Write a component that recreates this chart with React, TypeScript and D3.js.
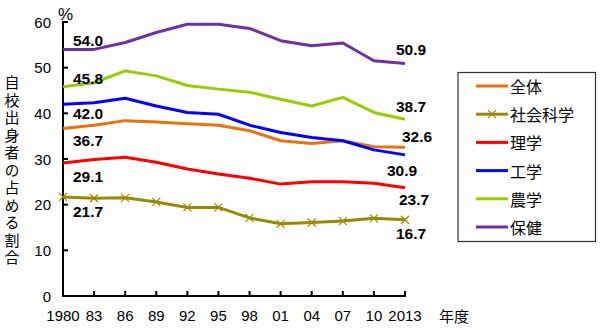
import React from "react";
import * as d3 from "d3";

const years = ["1980", "83", "86", "89", "92", "95", "98", "01", "04", "07", "10", "2013"];
const yTicks = [0, 10, 20, 30, 40, 50, 60];

const seriesNames = ["全体", "社会科学", "理学", "工学", "農学", "保健"];
const zentai = [36.7, 37.4, 38.4, 38.1, 37.7, 37.4, 36.2, 34.0, 33.4, 34.0, 32.7, 32.6];
const shakai = [21.7, 21.4, 21.5, 20.6, 19.4, 19.4, 17.1, 15.8, 16.1, 16.4, 17.0, 16.7];
const rigaku = [29.1, 29.9, 30.4, 29.3, 27.8, 26.7, 25.8, 24.5, 25.0, 25.0, 24.7, 23.7];
const kogaku = [42.0, 42.3, 43.3, 41.6, 40.2, 39.8, 37.4, 35.8, 34.7, 34.0, 32.0, 30.9];
const nogaku = [45.8, 46.7, 49.3, 48.2, 46.1, 45.3, 44.6, 43.1, 41.6, 43.5, 40.2, 38.7];
const hoken = [54.0, 54.0, 55.5, 57.7, 59.5, 59.5, 58.6, 55.9, 54.8, 55.4, 51.5, 50.9];

const colors = ["#E8720C", "#9A8800", "#FF0000", "#0000FF", "#99CC00", "#7030A0"];

const yTitle = "自校出身者の占める割合";

export default function App() {
  const data = [zentai, shakai, rigaku, kogaku, nogaku, hoken];
  const x = d3.scaleLinear().domain([0, years.length - 1]).range([63, 405]);
  const y = d3.scaleLinear().domain([0, 60]).range([296, 22]);
  const line = d3
    .line<number>()
    .x((_, i) => x(i))
    .y((d) => y(d));

  const startLabelY = [140, 211.7, 176.7, 113.3, 78.7, 40];
  const startLabelX = [73, 73, 73, 73, 73, 73];
  const endLabelX = [402, 396, 399, 387, 396, 396];
  const endLabelY = [136.7, 233.3, 199.3, 170.7, 106, 49.3];

  const num = "'Liberation Sans', Arial, sans-serif";
  const jp = "'Noto Sans CJK JP', sans-serif";

  return (
    <svg
      width={600}
      height={330}
      style={{ position: "absolute", left: 0, top: 0, background: "#fff" }}
    >
      {/* axes */}
      <line x1={63} y1={y(60) - 1} x2={63} y2={297} stroke="#000" strokeWidth={2} />
      <line x1={62} y1={296} x2={406} y2={296} stroke="#000" strokeWidth={2} />
      {yTicks.map((t) => (
        <g key={t}>
          <line x1={63} x2={68} y1={y(t)} y2={y(t)} stroke="#000" strokeWidth={2} />
          <text
            x={51}
            y={y(t)}
            textAnchor="end"
            dominantBaseline="central"
            fontFamily={num}
            fontSize={15}
          >
            {t}
          </text>
        </g>
      ))}
      {years.map((yr, i) => (
        <g key={yr}>
          <line x1={x(i)} x2={x(i)} y1={296} y2={291} stroke="#000" strokeWidth={2} />
          <text
            x={x(i)}
            y={315}
            textAnchor="middle"
            dominantBaseline="central"
            fontFamily={num}
            fontSize={15}
          >
            {yr}
          </text>
        </g>
      ))}
      <text x={58} y={14} fontFamily={num} fontSize={17} dominantBaseline="central">
        %
      </text>
      <text x={439} y={315} fontFamily={jp} fontSize={15} dominantBaseline="central">
        年度
      </text>
      <text
        x={12}
        y={75}
        fontFamily={jp}
        fontSize={15}
        style={{ writingMode: "vertical-rl", letterSpacing: "2.5px" } as any}
      >
        {yTitle}
      </text>

      {/* series */}
      {data.map((s, k) => (
        <path
          key={k}
          d={line(s) || ""}
          fill="none"
          stroke={colors[k]}
          strokeWidth={3}
          strokeLinejoin="round"
        />
      ))}
      {shakai.map((v, i) => (
        <path
          key={i}
          d={`M${x(i) - 4},${y(v) - 4}L${x(i) + 4},${y(v) + 4}M${x(i) - 4},${y(v) + 4}L${x(i) + 4},${y(v) - 4}`}
          stroke={colors[1]}
          strokeWidth={1.2}
        />
      ))}

      {/* value labels */}
      {data.map((s, k) => (
        <g key={k}>
          <text
            x={startLabelX[k]}
            y={startLabelY[k]}
            dominantBaseline="central"
            fontFamily={num}
            fontWeight="bold"
            fontSize={15.5}
          >
            {s[0].toFixed(1)}
          </text>
          <text
            x={endLabelX[k]}
            y={endLabelY[k]}
            dominantBaseline="central"
            fontFamily={num}
            fontWeight="bold"
            fontSize={15.5}
          >
            {s[s.length - 1].toFixed(1)}
          </text>
        </g>
      ))}

      {/* legend */}
      <rect x={458} y={72.5} width={137.5} height={169} fill="#fff" stroke="#333" strokeWidth={1.2} />
      {seriesNames.map((n, k) => {
        const ly = 86 + k * 28.2;
        return (
          <g key={n}>
            <line x1={476} x2={508} y1={ly} y2={ly} stroke={colors[k]} strokeWidth={3} />
            {k === 1 && (
              <path
                d={`M488,${ly - 4}L496,${ly + 4}M488,${ly + 4}L496,${ly - 4}`}
                stroke={colors[1]}
                strokeWidth={1.2}
              />
            )}
            <text x={510} y={ly} dominantBaseline="central" fontFamily={jp} fontSize={16}>
              {n}
            </text>
          </g>
        );
      })}
    </svg>
  );
}
